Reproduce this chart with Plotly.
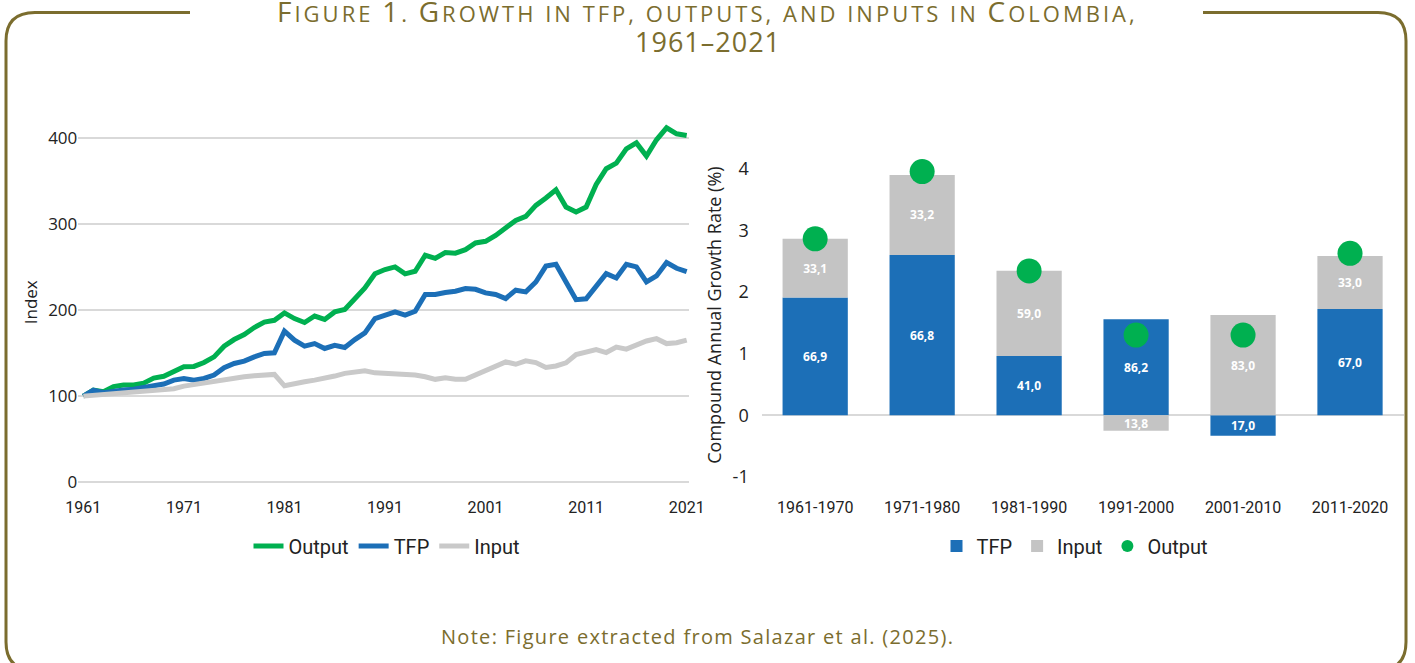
import plotly.graph_objects as go

# ---------------- data ----------------
years = list(range(1961, 2022))
output_idx = [100, 107, 105, 111, 113, 113, 115, 121, 123, 129,
              134, 134.5, 139, 145.6, 158, 165.7, 171.5, 179.6, 186, 188,
              196.6, 190, 185.5, 193, 189, 197.8, 200.5, 213, 225.6, 242,
              247, 250, 242, 245, 263.5, 260, 266.6, 266, 270, 277.8,
              279.7, 286.6, 295.6, 304, 308.7, 321.4, 330, 339.6, 319.5, 313.7,
              319.5, 345.8, 364, 370.5, 387, 394, 378.6, 397.6, 411.5, 404.5,
              402.6]
tfp_idx = [100, 107, 104, 106, 107, 108, 110, 112.8, 114, 118.6,
           120.5, 118.6, 120.5, 124.4, 132.9, 137.9, 140.6, 145.6, 149.5, 150.3,
           175.4, 165, 158, 161, 155.3, 159, 156.5, 165.7, 173.4, 190,
           194, 197.8, 194, 198.5, 218, 218, 220.2, 221.7, 224.8, 224,
           219.8, 218, 213.3, 223, 221, 232.5, 251, 253, 232.5, 212,
           213, 226.8, 242.2, 237.2, 253, 250, 232.5, 239.5, 255, 248.4,
           244.5]
input_idx = [100, 101, 102, 103, 104, 105, 106, 107.5, 108, 108.6,
             111.6, 113.5, 115.5, 117.5, 119.5, 121.3, 122.5, 123.7, 124.5, 125.2,
             112, 114.7, 116.6, 118.6, 120.5, 123.3, 126.4, 128.3, 129.5, 127,
             126.4, 126.4, 125.6, 124.5, 122.5, 119.5, 121.3, 119.5, 119.5, 124.5,
             129, 133.3, 139.8, 137, 141, 139, 133.3, 135, 138.6, 148.3,
             151.5, 154, 150.6, 157, 154.5, 159, 164, 166.7, 161, 162,
             165]
year_ticks = [1961, 1971, 1981, 1991, 2001, 2011, 2021]
index_ticks = [0, 100, 200, 300, 400]

periods = ["1961-1970", "1971-1980", "1981-1990", "1991-2000", "2001-2010", "2011-2020"]
tfp_rate = [1.91, 2.60, 0.96, 1.556, -0.33, 1.723]
input_rate = [0.95, 1.295, 1.383, -0.249, 1.625, 0.857]
output_rate = [2.86, 3.95, 2.34, 1.30, 1.30, 2.625]
tfp_share = [66.9, 66.8, 41.0, 86.2, 17.0, 67.0]
input_share = [33.1, 33.2, 59.0, 13.8, 83.0, 33.0]
rate_ticks = [-1, 0, 1, 2, 3, 4]
rate_ticktext = ["-1", "0", "1", "2", "3", "4"]

# ---------------- styles ----------------
W, H = 1415, 663
GREEN = "#00b050"
BLUE = "#1c6fb7"
GREY_LINE = "#c9c9c9"
GREY_BAR = "#c4c4c4"
OLIVE = "#7b6d2e"
TXT = "#222222"
COND = "Roboto, sans-serif"
MAIN = "Open Sans, Lato, sans-serif"


def px(x):
    return x / W


def py(y):
    return 1 - y / H


def comma(v):
    return f"{v:.1f}".replace(".", ",")


fig = go.Figure()

# ---- left: index lines ----
for name, vals, col in [("Output", output_idx, GREEN), ("TFP", tfp_idx, BLUE), ("Input", input_idx, GREY_LINE)]:
    fig.add_trace(go.Scatter(x=years, y=vals, name=name, mode="lines",
                             line=dict(color=col, width=5),
                             xaxis="x", yaxis="y", legend="legend"))

# ---- right: stacked bars ----
fig.add_trace(go.Bar(x=periods, y=tfp_rate, name="TFP", marker=dict(color=BLUE, line=dict(width=0)),
                     text=[comma(v) for v in tfp_share], textposition="inside",
                     insidetextanchor="middle", textangle=0,
                     textfont=dict(family=MAIN, size=12, color="white", weight="bold"),
                     xaxis="x2", yaxis="y2", legend="legend2"))
fig.add_trace(go.Bar(x=periods, y=input_rate, name="Input", marker=dict(color=GREY_BAR, line=dict(width=0)),
                     text=[comma(v) for v in input_share], textposition="inside",
                     insidetextanchor="middle", textangle=0,
                     textfont=dict(family=MAIN, size=12, color="white", weight="bold"),
                     xaxis="x2", yaxis="y2", legend="legend2"))
fig.add_trace(go.Scatter(x=periods, y=output_rate, name="Output", mode="markers",
                         marker=dict(color=GREEN, size=25),
                         xaxis="x2", yaxis="y2", legend="legend2"))

# ---- frame ----
frame = (f"M {px(190)},{py(12.5)} L {px(35)},{py(12.5)} Q {px(6)},{py(12.5)} {px(6)},{py(41)} "
         f"L {px(6)},{py(642)} Q {px(6)},{py(670)} {px(34)},{py(670)} "
         f"L {px(1378)},{py(670)} Q {px(1406)},{py(670)} {px(1406)},{py(642)} "
         f"L {px(1406)},{py(41)} Q {px(1406)},{py(12.5)} {px(1378)},{py(12.5)} L {px(1203)},{py(12.5)}")
fig.add_shape(type="path", path=frame, xref="paper", yref="paper",
              line=dict(color=OLIVE, width=3), layer="above")


def smallcaps(text, big=28, small=22, spacing=3):
    out = []
    for ch in text:
        if ch.islower() or ch in " .,":
            out.append(f"<span style='font-size:{small}px;letter-spacing:{spacing}px'>{ch.upper()}</span>")
        else:
            out.append(f"<span style='letter-spacing:{spacing}px'>{ch}</span>")
    return "".join(out)


fig.add_annotation(text=smallcaps("Figure 1. Growth in tfp, outputs, and inputs in Colombia,"),
                   x=0.5, y=py(11), xref="paper", yref="paper", xanchor="center", yanchor="middle",
                   showarrow=False, font=dict(family=MAIN, size=28, color=OLIVE))
fig.add_annotation(text="<span style='letter-spacing:1px'>1961–2021</span>", x=0.5, y=py(41),
                   xref="paper", yref="paper",
                   xanchor="center", yanchor="middle", showarrow=False,
                   font=dict(family=MAIN, size=27, color=OLIVE))
fig.add_annotation(text="<span style='letter-spacing:1.3px'>Note: Figure extracted from Salazar et al. (2025).</span>",
                   x=px(697), y=py(636),
                   xref="paper", yref="paper", xanchor="center", yanchor="middle", showarrow=False,
                   font=dict(family=MAIN, size=20, color=OLIVE))

fig.update_layout(
    width=W, height=H, margin=dict(l=0, r=0, t=0, b=0, autoexpand=False),
    paper_bgcolor="white", plot_bgcolor="white",
    barmode="relative", bargap=0.39,
    uniformtext=dict(minsize=12, mode="show"),
    showlegend=True,
    xaxis=dict(domain=[px(78.3), px(689)], range=[1960.5, 2021.23], tickvals=year_ticks,
               showgrid=False, zeroline=False, showline=False, ticks="", automargin=False,
               tickfont=dict(family=COND, size=16, color=TXT), ticklabelstandoff=12, anchor="y"),
    yaxis=dict(domain=[py(484.0), py(120.47)], range=[-2, 420], tickvals=index_ticks,
               showgrid=True, gridcolor="#d9d9d9", gridwidth=1.5, zeroline=False, showline=False,
               automargin=False,
               tickfont=dict(family=MAIN, size=17, color=TXT), ticklabelstandoff=0,
               title=dict(text="Index", font=dict(family=MAIN, size=17, color=TXT), standoff=6),
               anchor="x"),
    xaxis2=dict(domain=[px(761.7), px(1403.5)], showgrid=False, zeroline=False, showline=False,
                ticks="", automargin=False,
                tickfont=dict(family=COND, size=16, color=TXT), ticklabelstandoff=13,
                anchor="y2"),
    yaxis2=dict(domain=[py(483.2), py(146.9)], range=[-1.1, 4.35], tickvals=rate_ticks,
                ticktext=rate_ticktext,
                showgrid=False, zeroline=True, zerolinecolor="#d9d9d9", zerolinewidth=2,
                showline=False, automargin=False,
                tickfont=dict(family=MAIN, size=18, color=TXT), ticklabelstandoff=12,
                title=dict(text="Compound Annual Growth Rate (%)", font=dict(family=MAIN, size=18, color=TXT),
                           standoff=6),
                anchor="x2"),
    legend=dict(orientation="h", x=px(387), y=py(546), xanchor="center", yanchor="middle",
                font=dict(family=COND, size=20, color=TXT), itemwidth=30, bgcolor="rgba(0,0,0,0)"),
    legend2=dict(orientation="h", x=px(1075), y=py(546), xanchor="center", yanchor="middle",
                 font=dict(family=COND, size=20, color=TXT), itemwidth=30, itemsizing="constant",
                 bgcolor="rgba(0,0,0,0)"),
)

fig.write_html("out.html", config={"displayModeBar": False},
               post_script="document.body.style.margin='0';document.body.style.overflow='hidden';")
